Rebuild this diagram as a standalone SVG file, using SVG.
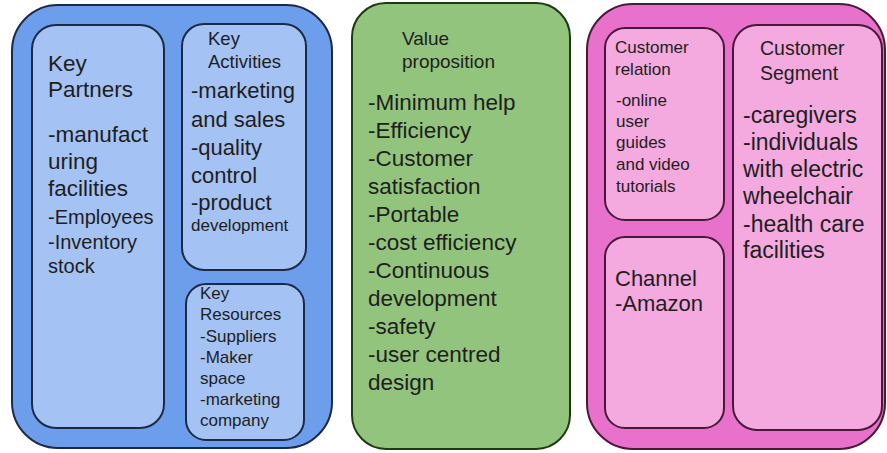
<svg xmlns="http://www.w3.org/2000/svg" width="887" height="453" viewBox="0 0 887 453">
  <style>
    text { font-family: "Liberation Sans", Arial, sans-serif; fill: #1e1e1e; }
    .blue-outer { fill: #6d9eeb; stroke: #1c2a48; stroke-width: 2; }
    .blue-inner { fill: #a4c2f4; stroke: #1c2a48; stroke-width: 2; }
    .green { fill: #93c47d; stroke: #1e3a12; stroke-width: 2; }
    .pink-outer { fill: #e872cb; stroke: #4a1838; stroke-width: 2; }
    .pink-inner { fill: #f4a9df; stroke: #4a1838; stroke-width: 2; }
  </style>

  <!-- Left panel: partners, activities, resources -->
  <g id="infrastructure">
    <rect class="blue-outer" x="12" y="5" width="320" height="443" rx="46"/>
  </g>

  <g id="key-partners">
    <rect class="blue-inner" x="32" y="25" width="132" height="403" rx="24"/>
    <text font-size="22.5">
      <tspan x="48" y="71">Key</tspan>
      <tspan x="48" y="97">Partners</tspan>
      <tspan x="48" y="142">-manufact</tspan>
      <tspan x="48" y="169">uring</tspan>
      <tspan x="48" y="196">facilities</tspan>
    </text>
    <text font-size="20">
      <tspan x="48" y="224">-Employees</tspan>
      <tspan x="48" y="249">-Inventory</tspan>
      <tspan x="48" y="273">stock</tspan>
    </text>
  </g>

  <g id="key-activities">
    <rect class="blue-inner" x="182" y="24" width="124" height="246" rx="22"/>
    <text font-size="18.5">
      <tspan x="208" y="45">Key</tspan>
      <tspan x="208" y="68">Activities</tspan>
    </text>
    <text font-size="22">
      <tspan x="191" y="98">-marketing</tspan>
      <tspan x="191" y="127">and sales</tspan>
      <tspan x="191" y="155">-quality</tspan>
      <tspan x="191" y="183">control</tspan>
      <tspan x="191" y="210">-product</tspan>
    </text>
    <text font-size="17">
      <tspan x="191" y="231">development</tspan>
    </text>
  </g>

  <g id="key-resources">
    <rect class="blue-inner" x="186" y="284" width="118" height="156" rx="20"/>
    <text font-size="17">
      <tspan x="200" y="299">Key</tspan>
      <tspan x="200" y="320">Resources</tspan>
      <tspan x="200" y="342">-Suppliers</tspan>
      <tspan x="200" y="363">-Maker</tspan>
      <tspan x="200" y="384">space</tspan>
      <tspan x="200" y="405">-marketing</tspan>
      <tspan x="200" y="426">company</tspan>
    </text>
  </g>

  <!-- Middle panel -->
  <g id="value-proposition">
    <rect class="green" x="352" y="3" width="218" height="446" rx="34"/>
    <text font-size="19">
      <tspan x="402" y="45">Value</tspan>
      <tspan x="402" y="68">proposition</tspan>
    </text>
    <text font-size="22.5">
      <tspan x="368" y="110">-Minimum help</tspan>
      <tspan x="368" y="138">-Efficiency</tspan>
      <tspan x="368" y="166">-Customer</tspan>
      <tspan x="368" y="194">satisfaction</tspan>
      <tspan x="368" y="222">-Portable</tspan>
      <tspan x="368" y="250">-cost efficiency</tspan>
      <tspan x="368" y="278">-Continuous</tspan>
      <tspan x="368" y="306">development</tspan>
      <tspan x="368" y="334">-safety</tspan>
      <tspan x="368" y="362">-user centred</tspan>
      <tspan x="368" y="390">design</tspan>
    </text>
  </g>

  <!-- Right panel: relations, channels, segments -->
  <g id="customers">
    <rect class="pink-outer" x="587" y="4" width="298" height="445" rx="46"/>
  </g>

  <g id="customer-relation">
    <rect class="pink-inner" x="605" y="28" width="119" height="192" rx="20"/>
    <text font-size="17">
      <tspan x="615" y="53">Customer</tspan>
      <tspan x="615" y="75">relation</tspan>
    </text>
    <text font-size="17">
      <tspan x="616" y="106">-online</tspan>
      <tspan x="616" y="127">user</tspan>
      <tspan x="616" y="148">guides</tspan>
      <tspan x="616" y="170">and video</tspan>
      <tspan x="616" y="192">tutorials</tspan>
    </text>
  </g>

  <g id="channel">
    <rect class="pink-inner" x="605" y="237" width="119" height="191" rx="20"/>
    <text font-size="22">
      <tspan x="615" y="286">Channel</tspan>
      <tspan x="615" y="311">-Amazon</tspan>
    </text>
  </g>

  <g id="customer-segment">
    <rect class="pink-inner" x="733" y="25" width="149" height="405" rx="24"/>
    <text font-size="19.5">
      <tspan x="760" y="55">Customer</tspan>
      <tspan x="760" y="80">Segment</tspan>
    </text>
    <text font-size="23">
      <tspan x="743" y="123">-caregivers</tspan>
      <tspan x="743" y="150">-individuals</tspan>
      <tspan x="743" y="177">with electric</tspan>
      <tspan x="743" y="204">wheelchair</tspan>
      <tspan x="743" y="232">-health care</tspan>
      <tspan x="743" y="258">facilities</tspan>
    </text>
  </g>

  <!-- No connectors in this canvas -->
  <g id="connectors"/>
</svg>
